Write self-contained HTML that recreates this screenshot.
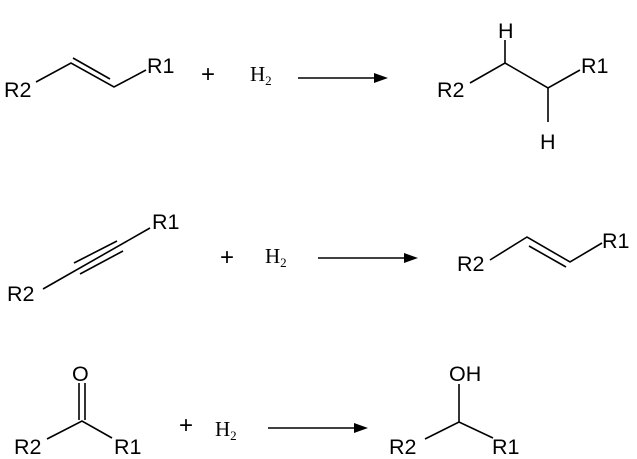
<!DOCTYPE html>
<html><head><meta charset="utf-8"><style>
html,body{margin:0;padding:0;background:#fff;}
svg{display:block}
line,polyline{stroke:#000;stroke-width:1.6;fill:none}
</style></head><body>
<svg width="637" height="459" viewBox="0 0 637 459" xmlns="http://www.w3.org/2000/svg">
<g font-family="Liberation Sans, sans-serif" font-size="21.5" fill="#000">
<text x="4" y="97">R2</text>
<text x="147" y="73">R1</text>
<text x="201" y="82" font-size="24">+</text>
<text x="437" y="97">R2</text>
<text x="498" y="38">H</text>
<text x="540" y="149">H</text>
<text x="581" y="73">R1</text>
<text x="7" y="301">R2</text>
<text x="152" y="229">R1</text>
<text x="220" y="265" font-size="24">+</text>
<text x="457" y="271">R2</text>
<text x="602" y="248">R1</text>
<text x="72" y="381">O</text>
<text x="14" y="454">R2</text>
<text x="114" y="454">R1</text>
<text x="179" y="433" font-size="24">+</text>
<text x="449" y="381">OH</text>
<text x="389" y="454">R2</text>
<text x="492" y="454">R1</text>
</g>
<g font-family="Liberation Serif, serif" font-size="21" fill="#000">
<text x="250" y="81">H<tspan font-size="13" dy="4">2</tspan></text>
<text x="265" y="263">H<tspan font-size="13" dy="4">2</tspan></text>
<text x="215" y="436">H<tspan font-size="13" dy="4">2</tspan></text>
</g>
<!-- Reaction 1 -->
<polyline points="36,82 71,63 114,87 146,70"/>
<line x1="73" y1="58" x2="110" y2="79"/>
<line x1="298" y1="78" x2="378" y2="78"/>
<polygon points="388,78 374,73 374,83" fill="#000"/>
<polyline points="470,83 505,63 548,88 580,70"/>
<line x1="505" y1="63" x2="505" y2="40"/>
<line x1="548" y1="88" x2="548" y2="122"/>
<!-- Reaction 2 -->
<line x1="43" y1="289" x2="150" y2="228"/>
<line x1="74" y1="263" x2="117" y2="241"/>
<line x1="80" y1="274" x2="123" y2="251"/>
<line x1="318" y1="258" x2="405" y2="258"/>
<polygon points="418,258 404,253 404,263" fill="#000"/>
<polyline points="490,260 527,237 570,262 602,243"/>
<line x1="529" y1="246" x2="566" y2="267"/>
<!-- Reaction 3 -->
<line x1="79" y1="383" x2="79" y2="420"/>
<line x1="85" y1="383" x2="85" y2="420"/>
<polyline points="47,439 82,421 112,438"/>
<line x1="268" y1="428" x2="356" y2="428"/>
<polygon points="368,428 354,423 354,433" fill="#000"/>
<line x1="459" y1="384" x2="459" y2="422"/>
<polyline points="425,439 459,422 493,438"/>
</svg>
</body></html>
